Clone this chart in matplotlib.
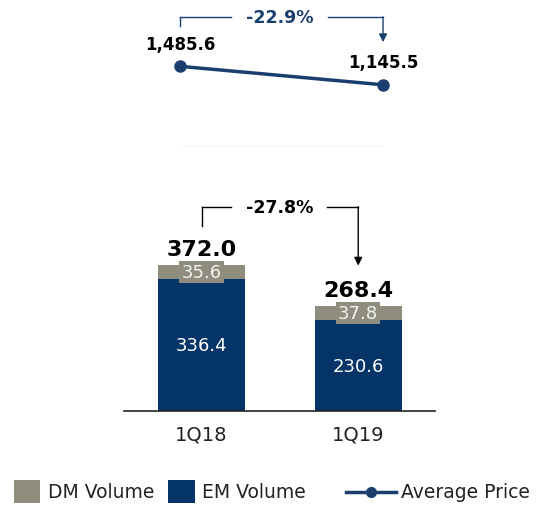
import numpy as np
import matplotlib.pyplot as plt
from matplotlib.patches import Rectangle
from matplotlib.lines import Line2D

# --- Data ---
quarters  = ['1Q18', '1Q19']
em_volume = [336.4, 230.6]
dm_volume = [35.6, 37.8]
totals    = [372.0, 268.4]
avg_price = [1485.6, 1145.5]
price_lbl = ['1,485.6', '1,145.5']
vol_chg   = '-27.8%'
price_chg = '-22.9%'

# --- Colours ---
navy  = '#053468'
grey  = '#8f8e7e'
blue  = '#1a3f6f'

plt.rcParams['font.family'] = ['DejaVu Sans']

W, H = 547, 510
fig = plt.figure(figsize=(W/100, H/100), dpi=100)

def box(l, t, r, b):
    # pixel box -> figure fraction [left, bottom, width, height]
    return [l/W, 1 - b/H, (r - l)/W, (b - t)/H]

# --- Volume bars ---
ax = fig.add_axes(box(124, 190, 435, 412))
x = np.arange(len(quarters))
ax.bar(x, em_volume, width=0.556, color=navy)
ax.bar(x, dm_volume, width=0.556, bottom=em_volume, color=grey)
ax.set_xlim(-0.495, 1.49)
ax.set_ylim(0, 565)
for s in ['top', 'right', 'left']:
    ax.spines[s].set_visible(False)
ax.spines['bottom'].set_color('#222222')
ax.spines['bottom'].set_linewidth(1.2)
ax.set_yticks([])
ax.set_xticks(x)
ax.set_xticklabels(quarters, fontsize=14, color='#222222')
ax.tick_params(axis='x', length=0, pad=10)

for i in range(len(quarters)):
    ax.text(x[i], em_volume[i] / 2, f'{em_volume[i]:.1f}', ha='center', va='center',
            color='white', fontsize=13)
    ax.text(x[i], em_volume[i] + dm_volume[i] / 2, f'{dm_volume[i]:.1f}', ha='center',
            va='center', color='#f2f2f2', fontsize=13,
            bbox=dict(boxstyle='square,pad=0.12', fc=grey, ec='none'))
    ax.text(x[i], totals[i] + 15, f'{totals[i]:.1f}', ha='center', va='bottom',
            fontsize=16, fontweight='bold', color='black')

# change bracket for volume
yb = 520
ax.plot([x[0], x[0]], [471, yb], color='black', lw=1)
ax.plot([x[0], x[0] + 0.19], [yb, yb], color='black', lw=1)
ax.plot([x[1] - 0.2, x[1]], [yb, yb], color='black', lw=1)
ax.annotate('', xy=(x[1], 370), xytext=(x[1], yb),
            arrowprops=dict(arrowstyle='-|>', color='black', lw=1, mutation_scale=12,
                            shrinkA=0, shrinkB=0))
ax.text(0.5, yb, vol_chg, ha='center', va='center', fontsize=12.5, fontweight='bold')

# --- Average price line ---
ax2 = fig.add_axes(box(124, 0, 435, 148))
ax2.plot(x, avg_price, color=blue, lw=2.5, marker='o', markersize=8)
ax2.set_xlim(-0.276, 1.256)
ax2.set_ylim(0, 2725)
ax2.axis('off')
ax2.plot([x[0], x[1]], [0, 0], color='#f6f6f6', lw=1.5)
ax2.text(x[0], avg_price[0] + 250, price_lbl[0], ha='center', va='bottom',
         fontsize=12, fontweight='bold')
ax2.text(x[1], avg_price[1] + 250, price_lbl[1], ha='center', va='bottom',
         fontsize=12, fontweight='bold')

yt = 2395
ax2.plot([x[0], x[0]], [2230, yt], color=blue, lw=1)
ax2.plot([x[0], x[0] + 0.25], [yt, yt], color=blue, lw=1)
ax2.plot([x[1] - 0.27, x[1]], [yt, yt], color=blue, lw=1)
ax2.annotate('', xy=(x[1], 1930), xytext=(x[1], yt),
             arrowprops=dict(arrowstyle='-|>', color=blue, lw=1, mutation_scale=12,
                             shrinkA=0, shrinkB=0))
ax2.text(0.49, yt, price_chg, ha='center', va='center', fontsize=12.5,
         fontweight='bold', color=blue)

# --- Legend ---
fig.patches.append(Rectangle((14/W, 1 - 504/H), 26/W, 23/H, transform=fig.transFigure,
                             fc=grey, ec='none'))
fig.text(48/W, 1 - 493/H, 'DM Volume', va='center', fontsize=13.5, color='#222222')
fig.patches.append(Rectangle((168/W, 1 - 504/H), 27/W, 23/H, transform=fig.transFigure,
                             fc=navy, ec='none'))
fig.text(202/W, 1 - 493/H, 'EM Volume', va='center', fontsize=13.5, color='#222222')
fig.lines.append(Line2D([346/W, 396/W], [1 - 493/H, 1 - 493/H], transform=fig.transFigure,
                        color=blue, lw=2.5))
fig.lines.append(Line2D([371/W], [1 - 493/H], transform=fig.transFigure,
                        color=blue, marker='o', markersize=7, lw=0))
fig.text(401/W, 1 - 493/H, 'Average Price', va='center', fontsize=13.5, color='#222222')

fig.savefig('out.png', dpi=100)
